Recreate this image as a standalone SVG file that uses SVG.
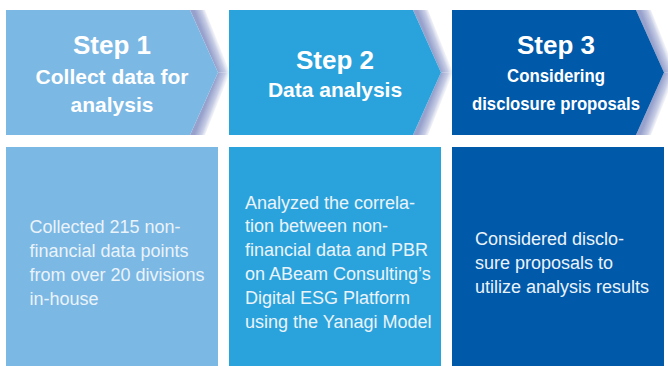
<svg xmlns="http://www.w3.org/2000/svg" width="668" height="366" viewBox="0 0 668 366">
<defs>
<linearGradient id="shU" gradientUnits="userSpaceOnUse" x1="0" y1="0" x2="13" y2="-5">
<stop offset="0" stop-color="#97a1cc"/>
<stop offset="0.5" stop-color="#c9cfe6"/>
<stop offset="1" stop-color="#ffffff" stop-opacity="0"/>
</linearGradient>
<linearGradient id="shL" gradientUnits="userSpaceOnUse" x1="0" y1="0" x2="13" y2="5">
<stop offset="0" stop-color="#97a1cc"/>
<stop offset="0.5" stop-color="#c9cfe6"/>
<stop offset="1" stop-color="#ffffff" stop-opacity="0"/>
</linearGradient>
<g id="shadow">
<polygon points="-28,-62.5 -13,-62.5 12,0 0,0" fill="url(#shU)"/>
<polygon points="-28,62.5 -13,62.5 12,0 0,0" fill="url(#shL)"/>
</g>
</defs>
<style>
.hd{font-family:"Liberation Sans",Arial,sans-serif;font-weight:bold;fill:#ffffff;text-anchor:middle}
.st{font-size:26px}
.sub{font-size:21px}
.bd{font-family:"Liberation Sans",Arial,sans-serif;font-size:18px;fill:#eaf3fa}
</style>
<rect width="668" height="366" fill="#ffffff"/>
<g id="shadows">
<use href="#shadow" transform="translate(218,72.5)"/>
<use href="#shadow" transform="translate(441,72.5)"/>
<use href="#shadow" transform="translate(664,72.5)"/>
</g>
<g id="step1">
<polygon points="6,10 190,10 218,72.5 190,135 6,135" fill="#7bb8e4"/>
<text class="hd st" x="112" y="53.5">Step 1</text>
<text class="hd sub" x="112" y="83.5">Collect data for</text>
<text class="hd sub" x="112" y="111.5">analysis</text>
</g>
<g id="step2">
<polygon points="229,10 413,10 441,72.5 413,135 229,135" fill="#2aa3dc"/>
<text class="hd st" x="335" y="68.5">Step 2</text>
<text class="hd sub" x="335" y="97">Data analysis</text>
</g>
<g id="step3">
<polygon points="452,10 636,10 664,72.5 636,135 452,135" fill="#0059a9"/>
<text class="hd st" x="556" y="53.5">Step 3</text>
<text class="hd" x="556" y="82" font-size="19" textLength="98" lengthAdjust="spacingAndGlyphs">Considering</text>
<text class="hd" x="556" y="110" font-size="19" textLength="168" lengthAdjust="spacingAndGlyphs">disclosure proposals</text>
</g>
<g id="detail1">
<rect x="6" y="147" width="212" height="219" fill="#7bb8e4"/>
<text class="bd" x="29.5" y="232.5">Collected 215 non-</text>
<text class="bd" x="29.5" y="256.5">financial data points</text>
<text class="bd" x="29.5" y="280.5">from over 20 divisions</text>
<text class="bd" x="29.5" y="304.5">in-house</text>
</g>
<g id="detail2">
<rect x="229" y="147" width="212" height="219" fill="#2aa3dc"/>
<text class="bd" x="245" y="208.5">Analyzed the correla-</text>
<text class="bd" x="245" y="232">tion between non-</text>
<text class="bd" x="245" y="255.5">financial data and PBR</text>
<text class="bd" x="245" y="279.5">on ABeam Consulting’s</text>
<text class="bd" x="245" y="303.5">Digital ESG Platform</text>
<text class="bd" x="245" y="327.5">using the Yanagi Model</text>
</g>
<g id="detail3">
<rect x="452" y="147" width="212" height="219" fill="#0059a9"/>
<text class="bd" x="475" y="245">Considered disclo-</text>
<text class="bd" x="475" y="268.5">sure proposals to</text>
<text class="bd" x="475" y="292.5">utilize analysis results</text>
</g>
</svg>
